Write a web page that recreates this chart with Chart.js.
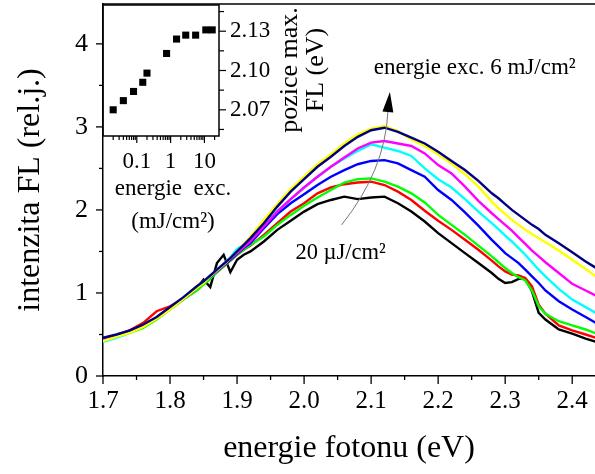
<!DOCTYPE html>
<html>
<head>
<meta charset="utf-8">
<title>intenzita FL</title>
<script src="https://cdn.jsdelivr.net/npm/chart.js@4.4.1/dist/chart.umd.min.js"></script>
<style>
  html, body { margin: 0; padding: 0; background: #fff; }
  #wrap { position: relative; width: 595px; height: 474px; overflow: hidden; }
  #main { position: absolute; left: 0; top: 0; }
  #inset { position: absolute; left: 95px; top: 0; }
</style>
</head>
<body>
<div id="wrap">
  <canvas id="main" width="595" height="474"></canvas>
  <canvas id="inset" width="240" height="245"></canvas>
</div>
<script>
// Photon energy grid (eV), denser around the structures at 1.86 and 2.33 eV
const energyEv = [1.70, 1.72, 1.74, 1.76, 1.78, 1.80, 1.82, 1.84, 1.85, 1.86,
                  1.87, 1.88, 1.89, 1.90, 1.91, 1.92, 1.94, 1.96, 1.98, 2.00,
                  2.02, 2.04, 2.06, 2.08, 2.10, 2.12, 2.14, 2.16, 2.18, 2.20,
                  2.22, 2.24, 2.26, 2.28, 2.29, 2.30, 2.31, 2.32, 2.33, 2.34,
                  2.35, 2.36, 2.38, 2.40, 2.42, 2.44];

// FL spectra, from the highest excitation (6 mJ/cm2, navy) down to 20 uJ/cm2 (black)
const flNavy = [0.46, 0.50, 0.55, 0.62, 0.71, 0.83, 0.95, 1.08, 1.14, 1.21,
                1.28, 1.35, 1.42, 1.50, 1.58, 1.66, 1.84, 2.04, 2.22, 2.37,
                2.52, 2.64, 2.77, 2.88, 2.96, 2.99, 2.94, 2.87, 2.80, 2.70,
                2.59, 2.48, 2.35, 2.20, 2.14, 2.07, 2.00, 1.94, 1.88, 1.82,
                1.77, 1.70, 1.60, 1.49, 1.38, 1.28];
const flYellow = [0.42, 0.47, 0.52, 0.59, 0.69, 0.80, 0.93, 1.06, 1.12, 1.20,
                  1.27, 1.34, 1.42, 1.50, 1.59, 1.68, 1.88, 2.07, 2.25, 2.40,
                  2.55, 2.67, 2.80, 2.91, 2.98, 3.01, 2.95, 2.85, 2.77, 2.67,
                  2.56, 2.43, 2.28, 2.10, 2.02, 1.95, 1.88, 1.82, 1.76, 1.71,
                  1.66, 1.61, 1.51, 1.40, 1.29, 1.17];
const flMagenta = [0.43, 0.48, 0.53, 0.60, 0.70, 0.81, 0.93, 1.06, 1.13, 1.20,
                   1.27, 1.34, 1.41, 1.48, 1.55, 1.62, 1.80, 1.98, 2.13, 2.27,
                   2.40, 2.52, 2.63, 2.74, 2.81, 2.83, 2.80, 2.77, 2.68, 2.54,
                   2.44, 2.28, 2.11, 1.96, 1.89, 1.82, 1.75, 1.67, 1.59, 1.51,
                   1.44, 1.37, 1.24, 1.11, 1.03, 0.95];
const flCyan = [0.41, 0.46, 0.52, 0.60, 0.70, 0.81, 0.93, 1.07, 1.14, 1.20,
                1.28, 1.35, 1.43, 1.53, 1.58, 1.64, 1.82, 1.99, 2.13, 2.27,
                2.40, 2.52, 2.62, 2.71, 2.79, 2.75, 2.71, 2.65, 2.50, 2.37,
                2.27, 2.13, 1.98, 1.84, 1.77, 1.69, 1.62, 1.54, 1.46, 1.37,
                1.28, 1.20, 1.05, 0.92, 0.83, 0.74];
const flBlue = [0.44, 0.49, 0.54, 0.61, 0.70, 0.81, 0.93, 1.06, 1.13, 1.19,
                1.26, 1.33, 1.40, 1.47, 1.54, 1.60, 1.78, 1.95, 2.08, 2.19,
                2.30, 2.40, 2.48, 2.55, 2.59, 2.60, 2.56, 2.48, 2.40, 2.24,
                2.12, 1.97, 1.81, 1.64, 1.56, 1.48, 1.42, 1.36, 1.28, 1.20,
                1.12, 1.03, 0.90, 0.80, 0.71, 0.62];
const flGreen = [0.43, 0.47, 0.52, 0.58, 0.68, 0.80, 0.92, 1.03, 1.10, 1.17,
                 1.25, 1.32, 1.39, 1.46, 1.52, 1.58, 1.68, 1.82, 1.94, 2.05,
                 2.15, 2.24, 2.33, 2.37, 2.38, 2.34, 2.28, 2.20, 2.09, 1.94,
                 1.82, 1.70, 1.57, 1.44, 1.37, 1.30, 1.24, 1.19, 1.15, 1.03,
                 0.84, 0.75, 0.66, 0.61, 0.56, 0.50];
const flRed = [0.44, 0.49, 0.55, 0.64, 0.78, 0.84, 0.93, 1.05, 1.12, 1.18,
               1.25, 1.32, 1.39, 1.46, 1.52, 1.57, 1.70, 1.84, 1.98, 2.08,
               2.20, 2.27, 2.31, 2.33, 2.34, 2.30, 2.22, 2.12, 1.99, 1.87,
               1.76, 1.64, 1.52, 1.39, 1.32, 1.26, 1.22, 1.21, 1.18, 1.08,
               0.86, 0.75, 0.61, 0.55, 0.50, 0.45];
const flBlack = [0.44, 0.49, 0.54, 0.61, 0.70, 0.81, 0.93, 1.06, 1.16, 1.07,
                 1.36, 1.46, 1.25, 1.40, 1.46, 1.50, 1.62, 1.76, 1.87, 1.98,
                 2.07, 2.12, 2.16, 2.13, 2.15, 2.16, 2.08, 1.98, 1.86, 1.72,
                 1.60, 1.48, 1.36, 1.24, 1.17, 1.12, 1.13, 1.17, 1.17, 1.02,
                 0.76, 0.68, 0.56, 0.51, 0.45, 0.40];

const spectra = [flNavy, flYellow, flMagenta, flCyan, flBlue, flGreen, flRed, flBlack];
const spectraColors = ['#000080', '#ffff00', '#ff00ff', '#00ffff', '#0000ff', '#00ff00', '#ff0000', '#000000'];

// main axes ticks
const xMajorTicks = [1.7, 1.8, 1.9, 2.0, 2.1, 2.2, 2.3, 2.4];
const xMinorTicks = [1.75, 1.85, 1.95, 2.05, 2.15, 2.25, 2.35];
const yMajorTicks = [0, 1, 2, 3, 4];
const yMinorTicks = [0.5, 1.5, 2.5, 3.5];

// inset: FL maximum position vs. excitation energy
const excitation = [0.02, 0.04, 0.08, 0.15, 0.2, 0.76, 1.5, 2.8, 5.5, 11, 17];  // mJ/cm2
const peakPos = [2.070, 2.077, 2.084, 2.091, 2.098, 2.113, 2.124, 2.127, 2.127, 2.131, 2.131]; // eV
const insetXMajor = [0.1, 1, 10];
const insetXMinor = [0.02, 0.03, 0.04, 0.05, 0.06, 0.07, 0.08, 0.09,
                     0.2, 0.3, 0.4, 0.5, 0.6, 0.7, 0.8, 0.9,
                     2, 3, 4, 5, 6, 7, 8, 9, 20];
const insetYMajor = [2.07, 2.10, 2.13];
const insetYMinor = [2.055, 2.085, 2.115, 2.145];

const SERIF = '"Liberation Serif", "DejaVu Serif", serif';
const has = (list, v) => list.some(t => Math.abs(t - v) < 1e-9);
const toTicks = list => list.slice().sort((a, b) => a - b).map(v => ({ value: v }));

// fixed axis box, no extra room for overhanging labels
function fixBox(size) {
    return s => {
        if (s.isHorizontal()) s.height = size; else s.width = size;
        s.paddingTop = 0;
        s.paddingBottom = 0;
        s.paddingLeft = 0;
        s.paddingRight = 0;
    };
}

function strokeLine(ctx, x1, y1, x2, y2) {
    ctx.beginPath();
    ctx.moveTo(x1, y1);
    ctx.lineTo(x2, y2);
    ctx.stroke();
}

/**
 * Frame top line, major/minor tick marks and the excitation arrow.
 */
const mainDecor = {
    id: 'mainDecor',
    afterDraw(chart) {
        const { ctx, chartArea: a, scales: { x, y } } = chart;
        ctx.save();
        ctx.strokeStyle = '#000';
        ctx.lineWidth = 1.5;
        strokeLine(ctx, a.left, a.top, a.right, a.top);

        ctx.lineWidth = 1.3;
        x.ticks.forEach(t => {
            const px = x.getPixelForValue(t.value);
            strokeLine(ctx, px, a.bottom, px, a.bottom + (has(xMajorTicks, t.value) ? 8 : 4));
        });
        y.ticks.forEach(t => {
            const py = y.getPixelForValue(t.value);
            strokeLine(ctx, a.left, py, a.left - (has(yMajorTicks, t.value) ? 7 : 4), py);
        });

        // arrow from the lowest to the highest excitation
        const p0 = [x.getPixelForValue(2.056), y.getPixelForValue(1.82)];
        const c = [x.getPixelForValue(2.121), y.getPixelForValue(2.48)];
        const p1 = [x.getPixelForValue(2.125), y.getPixelForValue(3.18)];
        const tip = [x.getPixelForValue(2.128), y.getPixelForValue(3.42)];
        ctx.strokeStyle = '#777';
        ctx.lineWidth = 1;
        ctx.beginPath();
        ctx.moveTo(p0[0], p0[1]);
        ctx.quadraticCurveTo(c[0], c[1], p1[0], p1[1]);
        ctx.stroke();

        const dx = tip[0] - p1[0], dy = tip[1] - p1[1];
        const len = Math.hypot(dx, dy);
        const nx = -dy / len * 5.5, ny = dx / len * 5.5;
        ctx.fillStyle = '#000';
        ctx.beginPath();
        ctx.moveTo(tip[0], tip[1]);
        ctx.lineTo(p1[0] + nx, p1[1] + ny);
        ctx.lineTo(p1[0] - nx, p1[1] - ny);
        ctx.closePath();
        ctx.fill();

        ctx.textAlign = 'left';
        ctx.textBaseline = 'alphabetic';
        ctx.font = '23px ' + SERIF;
        ctx.fillText('energie exc. 6 mJ/cm²', x.getPixelForValue(2.104), y.getPixelForValue(3.64));
        ctx.font = '22.5px ' + SERIF;
        ctx.fillText('20 µJ/cm²', x.getPixelForValue(1.987), y.getPixelForValue(1.41));
        ctx.restore();
    }
};

const datasets = spectra.map((vals, i) => ({
    data: energyEv.map((e, k) => ({ x: e, y: vals[k] })),
    borderColor: spectraColors[i],
    borderWidth: 2.4,
    pointRadius: 0,
    tension: 0,
    fill: false
}));

new Chart(document.getElementById('main'), {
    type: 'line',
    data: { datasets },
    options: {
        responsive: false,
        animation: false,
        events: [],
        layout: { padding: { top: 4, right: 0, bottom: 0, left: 0 } },
        plugins: { legend: { display: false }, tooltip: { enabled: false } },
        scales: {
            x: {
                type: 'linear',
                min: 1.7,
                max: 2.434,
                afterFit: fixBox(98),
                afterBuildTicks: s => { s.ticks = toTicks(xMajorTicks.concat(xMinorTicks)); },
                grid: { display: false, drawTicks: false },
                border: { display: true, color: '#000', width: 1.5 },
                ticks: {
                    autoSkip: false,
                    maxRotation: 0,
                    padding: 10,
                    color: '#000',
                    font: { family: SERIF, size: 25 },
                    callback: v => has(xMajorTicks, v) ? v.toFixed(1) : ''
                },
                title: {
                    display: true,
                    text: 'energie fotonu (eV)',
                    color: '#000',
                    font: { family: SERIF, size: 32 },
                    padding: { top: 0, bottom: 6 }
                }
            },
            y: {
                min: 0,
                max: 4.48,
                afterFit: fixBox(103),
                afterBuildTicks: s => { s.ticks = toTicks(yMajorTicks.concat(yMinorTicks)); },
                grid: { display: false, drawTicks: false },
                border: { display: true, color: '#000', width: 1.5 },
                ticks: {
                    autoSkip: false,
                    padding: 15,
                    color: '#000',
                    font: { family: SERIF, size: 26 },
                    callback: v => has(yMajorTicks, v) ? String(v) : ''
                },
                title: {
                    display: true,
                    text: 'intenzita FL (rel.j.)',
                    color: '#000',
                    font: { family: SERIF, size: 32 },
                    padding: { top: 11, bottom: 0 }
                }
            }
        }
    },
    plugins: [mainDecor]
});

/**
 * Inset frame, ticks and the axis captions.
 */
const insetDecor = {
    id: 'insetDecor',
    afterDraw(chart) {
        const { ctx, chartArea: a, scales: { x, y } } = chart;
        ctx.save();
        ctx.strokeStyle = '#000';
        ctx.lineWidth = 1.5;
        ctx.strokeRect(a.left, a.top, a.right - a.left, a.bottom - a.top);

        ctx.lineWidth = 1.2;
        x.ticks.forEach(t => {
            const px = x.getPixelForValue(t.value);
            strokeLine(ctx, px, a.bottom, px, a.bottom + (has(insetXMajor, t.value) ? 7 : 4));
        });
        y.ticks.forEach(t => {
            const py = y.getPixelForValue(t.value);
            strokeLine(ctx, a.right, py, a.right + (has(insetYMajor, t.value) ? 7 : 5), py);
        });

        ctx.fillStyle = '#000';
        ctx.font = '23px ' + SERIF;
        ctx.textAlign = 'center';
        ctx.textBaseline = 'middle';
        ctx.fillText('energie  exc.', 78, 189);
        ctx.fillText('(mJ/cm²)', 78, 222);

        ctx.font = '26px ' + SERIF;
        ctx.translate(0, 70);
        ctx.rotate(-Math.PI / 2);
        ctx.fillText('pozice max.', 0, 195);
        ctx.fillText('FL (eV)', 0, 221);
        ctx.restore();
    }
};

new Chart(document.getElementById('inset'), {
    type: 'scatter',
    data: {
        datasets: [{
            data: excitation.map((e, i) => ({ x: e, y: peakPos[i] })),
            pointStyle: 'rect',
            pointRadius: 5,
            backgroundColor: '#000',
            borderWidth: 0
        }]
    },
    options: {
        responsive: false,
        animation: false,
        events: [],
        layout: { padding: { left: 8, top: 4, right: 0, bottom: 0 } },
        plugins: { legend: { display: false }, tooltip: { enabled: false } },
        scales: {
            x: {
                type: 'logarithmic',
                min: 0.01,
                max: 27,
                afterFit: fixBox(109),
                afterBuildTicks: s => { s.ticks = toTicks(insetXMajor.concat(insetXMinor)); },
                grid: { display: false, drawTicks: false },
                border: { display: false },
                ticks: {
                    autoSkip: false,
                    maxRotation: 0,
                    padding: 12,
                    color: '#000',
                    font: { family: SERIF, size: 23 },
                    callback: v => has(insetXMajor, v) ? String(v) : ''
                }
            },
            y: {
                type: 'linear',
                position: 'right',
                min: 2.05,
                max: 2.15,
                afterFit: fixBox(116),
                afterBuildTicks: s => { s.ticks = toTicks(insetYMajor.concat(insetYMinor)); },
                grid: { display: false, drawTicks: false },
                border: { display: false },
                ticks: {
                    autoSkip: false,
                    padding: 11,
                    color: '#000',
                    font: { family: SERIF, size: 23 },
                    callback: v => has(insetYMajor, v) ? v.toFixed(2) : ''
                }
            }
        }
    },
    plugins: [insetDecor]
});
</script>
</body>
</html>
